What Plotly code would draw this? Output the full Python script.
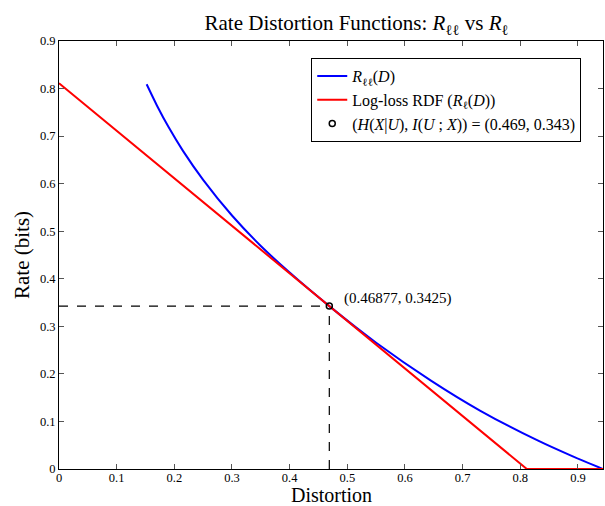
import plotly.graph_objects as go

# Blue curve R_ll(D)
blue_D = [0.152, 0.17, 0.19, 0.215, 0.25, 0.30, 0.35, 0.40, 0.46877, 0.55, 0.645, 0.73, 0.83, 0.89, 0.9434]
blue_R = [0.809, 0.764, 0.719, 0.669, 0.608, 0.533, 0.469, 0.413, 0.3425, 0.2655, 0.186, 0.123, 0.060, 0.027, 0.0]

# Red log-loss RDF line
red_D = [0.0, 0.8113, 0.9434]
red_R = [0.8113, 0.0, 0.0]

# Highlighted point
pt_D = 0.46877
pt_R = 0.3425

x_ticks = [0, 0.1, 0.2, 0.3, 0.4, 0.5, 0.6, 0.7, 0.8, 0.9]
y_ticks = [0, 0.1, 0.2, 0.3, 0.4, 0.5, 0.6, 0.7, 0.8, 0.9]

SERIF = "Liberation Serif, Times New Roman, serif"

fig = go.Figure()

fig.add_trace(go.Scatter(x=[0, pt_D], y=[pt_R, pt_R], mode="lines",
                         line=dict(color="black", width=1.2, dash="dash"),
                         showlegend=False, hoverinfo="skip"))
fig.add_trace(go.Scatter(x=[pt_D, pt_D], y=[0, pt_R], mode="lines",
                         line=dict(color="black", width=1.2, dash="dash"),
                         showlegend=False, hoverinfo="skip"))

fig.add_trace(go.Scatter(x=blue_D, y=blue_R, mode="lines",
                         line=dict(color="#0000ff", width=2, shape="spline", smoothing=0.8),
                         name="<i>R</i><sub>ℓℓ</sub>(<i>D</i>)"))
fig.add_trace(go.Scatter(x=red_D, y=red_R, mode="lines",
                         line=dict(color="#ff0000", width=2),
                         name="Log-loss RDF (<i>R</i><sub>ℓ</sub>(<i>D</i>))"))
fig.add_trace(go.Scatter(x=[pt_D], y=[pt_R], mode="markers",
                         marker=dict(symbol="circle-open", size=6, color="black",
                                     line=dict(width=1.5, color="black")),
                         name="(<i>H</i>(<i>X</i>|<i>U</i>), <i>I</i>(<i>U</i> ; <i>X</i>)) = (0.469, 0.343)"))

fig.add_annotation(x=0.491, y=0.358, xref="x", yref="y", text="(0.46877, 0.3425)",
                   showarrow=False, xanchor="left", yanchor="middle",
                   font=dict(family=SERIF, size=15, color="black"))

# Axis titles
fig.add_annotation(x=0.5, y=0, xref="paper", yref="paper", yshift=-26,
                   text="Distortion", showarrow=False, xanchor="center", yanchor="middle",
                   font=dict(family=SERIF, size=20, color="black"))
fig.add_annotation(x=0, y=0.5, xref="paper", yref="paper", xshift=-37,
                   text="Rate (bits)", showarrow=False, textangle=-90,
                   xanchor="center", yanchor="middle",
                   font=dict(family=SERIF, size=21, color="black"))

axis_common = dict(showline=True, linecolor="black", linewidth=1, mirror="ticks",
                   ticks="inside", ticklen=5, tickcolor="#555", showgrid=False,
                   zeroline=False, automargin=False,
                   tickfont=dict(family=SERIF, size=12.5, color="black"))

fig.update_xaxes(range=[0, 0.9434], tickvals=x_ticks,
                 ticktext=[f"{v:g}" for v in x_ticks], ticklabelstandoff=-3, **axis_common)
fig.update_yaxes(range=[0, 0.9], tickvals=y_ticks,
                 ticktext=[f"{v:g}" for v in y_ticks], **axis_common)

fig.update_layout(
    width=605, height=506,
    margin=dict(l=59, r=2, t=41, b=37),
    paper_bgcolor="white", plot_bgcolor="white",
    title=dict(text="Rate Distortion Functions: <i>R</i><sub>ℓℓ</sub> vs <i>R</i><sub>ℓ</sub>",
               x=0.547, xanchor="center", y=0.955, yanchor="middle",
               xref="paper", yref="container",
               font=dict(family=SERIF, size=21, color="black")),
    legend=dict(x=0.960, y=0.96, xanchor="right", yanchor="top",
                bgcolor="white", bordercolor="black", borderwidth=1,
                font=dict(family=SERIF, size=16, color="black"),
                itemwidth=30, tracegroupgap=0),
    showlegend=True,
)

fig.write_html("out.html", config={"displayModeBar": False},
               post_script="document.body.style.margin='0';document.body.style.overflow='hidden';")
